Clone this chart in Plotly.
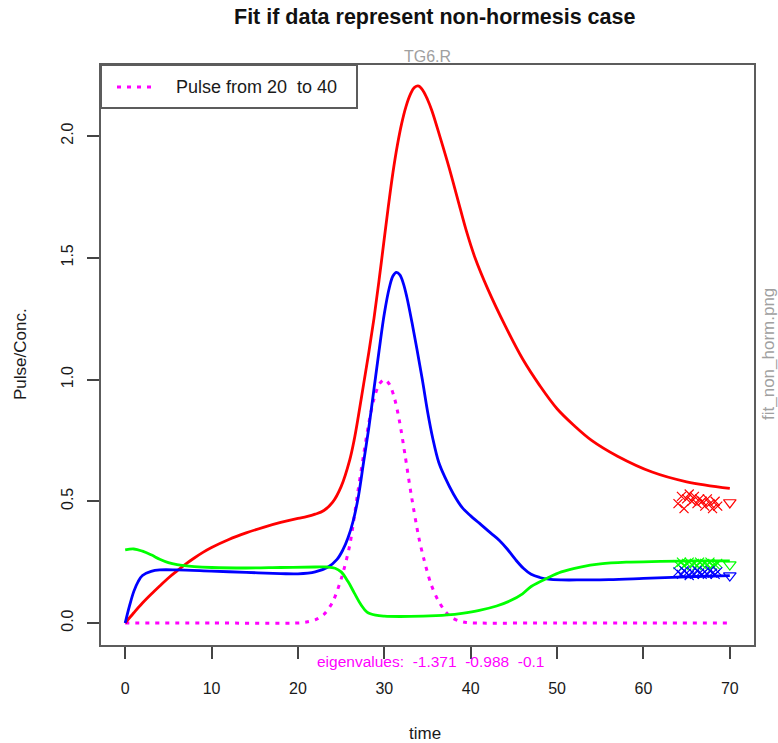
import plotly.graph_objects as go

# ---- fitted curves (time, value) ----
red_t = [0, 1, 2, 3, 4, 5, 6, 7, 8, 9, 10, 12, 14, 16, 18, 20, 21, 22, 23, 24, 25, 26,
         26.5, 27, 27.6, 28.2, 28.8, 29.4, 30, 30.5, 31, 31.5, 32, 32.5, 33, 33.5, 34,
         34.5, 35, 35.5, 36.5, 37.5, 38.5, 39.5, 40.5, 42, 44, 46, 48, 50, 52, 54, 57, 61,
         65, 70]
red_y = [0, 0.042, 0.082, 0.118, 0.152, 0.185, 0.214, 0.242, 0.267, 0.29, 0.31, 0.343,
         0.37, 0.393, 0.413, 0.43, 0.437, 0.447, 0.462, 0.495, 0.56, 0.67, 0.75, 0.85, 0.98,
         1.11, 1.25, 1.41, 1.58, 1.72, 1.85, 1.96, 2.05, 2.12, 2.17, 2.2, 2.205, 2.185,
         2.15, 2.105, 1.99, 1.87, 1.74, 1.61, 1.50, 1.37, 1.22, 1.085, 0.975, 0.88, 0.81,
         0.75, 0.685, 0.62, 0.58, 0.553]

blue_t = [0, 0.5, 1, 1.5, 2, 3, 4, 6, 10, 14, 18, 20, 22, 23.5, 24.5, 25.2, 25.8, 26.4,
          27, 27.6, 28.2, 28.8, 29.4, 30, 30.6, 31, 31.4, 31.8, 32.2, 32.6, 33.2, 33.8,
          34.4, 35, 35.6, 36.3, 37, 38, 39, 40, 41, 42.3, 43.3, 44.2, 45.2, 46.1, 47, 48,
          49, 50.5, 53, 56, 60, 65, 70]
blue_y = [0, 0.07, 0.13, 0.17, 0.195, 0.212, 0.218, 0.218, 0.213, 0.208, 0.203, 0.202,
          0.21, 0.23, 0.26, 0.30, 0.35, 0.42, 0.52, 0.66, 0.80, 0.96, 1.12, 1.27, 1.38,
          1.425, 1.44, 1.43, 1.395, 1.34, 1.235, 1.12, 1.0, 0.87, 0.76, 0.66, 0.60, 0.53,
          0.475, 0.44, 0.41, 0.37, 0.34, 0.305, 0.26, 0.225, 0.20, 0.187, 0.18, 0.177,
          0.177, 0.178, 0.183, 0.19, 0.195]

green_t = [0, 1, 2, 3, 4, 5, 6, 8, 10, 14, 18, 22, 23.4, 24.3, 25, 25.8, 26.5, 27.3, 28,
           29, 30, 33, 36, 37.3, 39, 41, 43, 44.5, 46, 47, 48.9, 50.5, 52.7, 55, 58, 62,
           66, 70]
green_y = [0.30, 0.304, 0.295, 0.28, 0.262, 0.248, 0.24, 0.232, 0.228, 0.226, 0.228, 0.23,
           0.23, 0.225, 0.21, 0.17, 0.125, 0.075, 0.045, 0.032, 0.028, 0.027, 0.03, 0.033,
           0.04, 0.052, 0.07, 0.09, 0.12, 0.15, 0.185, 0.21, 0.23, 0.243, 0.25, 0.253,
           0.255, 0.255]

pulse_t = [0, 10, 20, 21, 22, 23, 24, 25, 26, 26.9, 27.6, 28.2, 28.8, 29.4, 30, 30.6,
           31.2, 31.8, 32.4, 33.1, 34, 34.6, 35.4, 36.2, 37, 37.7, 38.5, 39.5, 40.5, 50,
           60, 70]
pulse_y = [0, 0, 0, 0.004, 0.013, 0.035, 0.085, 0.18, 0.32, 0.53, 0.69, 0.82, 0.92, 0.98,
           1.0, 0.98, 0.92, 0.82, 0.69, 0.53, 0.35, 0.26, 0.16, 0.095, 0.05, 0.025, 0.01,
           0.002, 0, 0, 0, 0]

# ---- observed data near the end of the run ----
obs_t = [64.0, 64.4, 64.7, 65.0, 65.3, 65.6, 65.9, 66.2, 66.5, 66.8, 67.1, 67.4, 67.7,
         68.0, 68.3, 68.6]
obs_red = [0.49, 0.52, 0.47, 0.51, 0.53, 0.50, 0.52, 0.49, 0.51, 0.50, 0.48, 0.51, 0.49,
           0.47, 0.50, 0.48]
obs_green = [0.24, 0.25, 0.235, 0.245, 0.25, 0.24, 0.245, 0.235, 0.25, 0.24, 0.245, 0.24,
             0.25, 0.235, 0.24, 0.245]
obs_blue = [0.21, 0.20, 0.215, 0.205, 0.195, 0.21, 0.20, 0.215, 0.205, 0.20, 0.21, 0.20,
            0.215, 0.205, 0.20, 0.21]
end_t = [70, 70, 70]
end_y = [0.495, 0.24, 0.195]
end_colors = ["#FF0000", "#00FF00", "#0000FF"]

x_ticks = [0, 10, 20, 30, 40, 50, 60, 70]
y_ticks = [0.0, 0.5, 1.0, 1.5, 2.0]
y_tick_text = ["0.0", "0.5", "1.0", "1.5", "2.0"]

FONT = "Liberation Sans, Arial, Helvetica, sans-serif"
W, H = 778, 743
L, R, T, B = 101, 754, 65, 645


def px(x):
    return (x - L) / (R - L)


def py(y):
    return (B - y) / (B - T)


fig = go.Figure()

fig.add_trace(go.Scatter(x=pulse_t, y=pulse_y, mode="lines",
                         line=dict(color="#FF00FF", width=3, dash="4px,6px",
                                   shape="spline", smoothing=0.8)))
fig.add_trace(go.Scatter(x=red_t, y=red_y, mode="lines",
                         line=dict(color="#FF0000", width=2.8, shape="spline", smoothing=1)))
fig.add_trace(go.Scatter(x=blue_t, y=blue_y, mode="lines",
                         line=dict(color="#0000FF", width=2.8, shape="spline", smoothing=1)))
fig.add_trace(go.Scatter(x=green_t, y=green_y, mode="lines",
                         line=dict(color="#00FF00", width=2.8, shape="spline", smoothing=1)))

for ys, c in [(obs_red, "#FF0000"), (obs_green, "#00FF00"), (obs_blue, "#0000FF")]:
    fig.add_trace(go.Scatter(x=obs_t, y=ys, mode="markers",
                             marker=dict(symbol="x-thin-open", size=9, color=c,
                                         line=dict(width=1.2, color=c))))
fig.add_trace(go.Scatter(x=end_t, y=end_y, mode="markers",
                         marker=dict(symbol="triangle-down-open", size=11, color=end_colors,
                                     line=dict(width=1.2, color=end_colors))))

axis_common = dict(showgrid=False, zeroline=False, showline=True, mirror=True,
                   linecolor="#5c5c5c", linewidth=2, ticks="outside", ticklen=12,
                   tickwidth=1.5, tickcolor="#444444",
                   tickfont=dict(family=FONT, size=16, color="#1a1a1a"))

fig.update_layout(
    width=W, height=H,
    margin=dict(l=L, r=W - R, t=T, b=H - B, pad=0),
    paper_bgcolor="white", plot_bgcolor="white",
    showlegend=False,
    font=dict(family=FONT),
    xaxis=dict(range=[-2.8, 72.8], tickvals=x_ticks, ticklabelstandoff=16, **axis_common),
    yaxis=dict(range=[-0.0903, 2.2916], tickvals=y_ticks, ticktext=y_tick_text,
               tickangle=-90, ticklabelstandoff=8, **axis_common),
)

# legend box with dotted pulse sample
fig.add_shape(type="rect", xref="paper", yref="paper", x0=px(101), x1=px(357),
              y0=py(108), y1=py(65), line=dict(color="#5c5c5c", width=2),
              fillcolor="white", layer="above")
fig.add_shape(type="line", xref="paper", yref="paper", x0=px(117), x1=px(151),
              y0=py(87), y1=py(87), line=dict(color="#FF00FF", width=3, dash="4px,6px"),
              layer="above")

notes = [
    dict(text="<b>Fit if data represent non-hormesis case</b>", x=px(434), y=py(17),
         font=dict(size=21.5, color="#111111")),
    dict(text="TG6.R", x=px(428), y=py(57), font=dict(size=16, color="#a0a0a0")),
    dict(text="Pulse from 20\u00a0\u00a0to 40", x=px(174), y=py(87), xanchor="left",
         font=dict(size=18, color="#1a1a1a")),
    dict(text="eigenvalues:\u00a0\u00a0-1.371\u00a0\u00a0-0.988\u00a0\u00a0-0.1",
         x=px(430), y=py(661), font=dict(size=15.5, color="#FF00FF")),
    dict(text="time", x=px(425), y=py(733), font=dict(size=17, color="#1a1a1a")),
    dict(text="Pulse/Conc.", x=px(20), y=py(354), textangle=-90,
         font=dict(size=17, color="#1a1a1a")),
    dict(text="fit_non_horm.png", x=px(768), y=py(354), textangle=-90,
         font=dict(size=17, color="#a0a0a0")),
]
for n in notes:
    base = dict(xref="paper", yref="paper", showarrow=False, xanchor="center",
                yanchor="middle")
    base.update(n)
    fig.add_annotation(**base)

fig.write_html("out.html")
